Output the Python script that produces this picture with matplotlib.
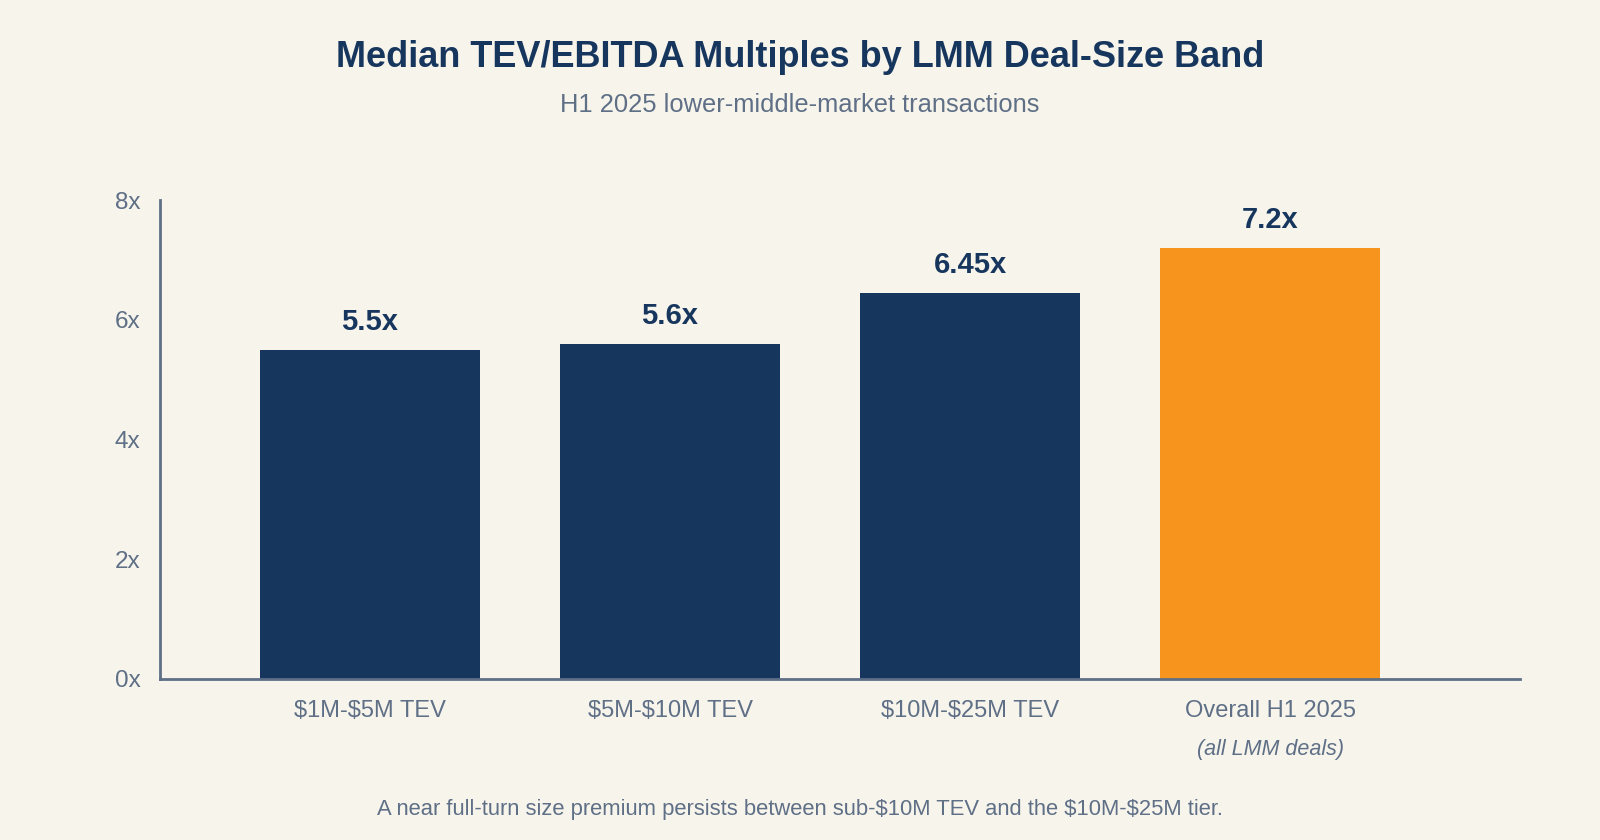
import matplotlib.pyplot as plt

# data
bands = ['\\$1M-\\$5M TEV', '\\$5M-\\$10M TEV', '\\$10M-\\$25M TEV', 'Overall H1 2025']
multiples = [5.5, 5.6, 6.45, 7.2]
value_labels = ['5.5x', '5.6x', '6.45x', '7.2x']
bar_colors = ['#17365D', '#17365D', '#17365D', '#F7941E']
yticks = [0, 2, 4, 6, 8]
ytick_labels = ['0x', '2x', '4x', '6x', '8x']

bg = '#F7F4EC'
navy = '#17365D'
gray = '#5E6F86'

plt.rcParams['font.family'] = ['Liberation Sans', 'DejaVu Sans']

fig = plt.figure(figsize=(16, 8.4), dpi=100, facecolor=bg)
ax = fig.add_axes([0.1, 0.1917, 0.85, 0.5702], facecolor=bg)

x = range(len(bands))
ax.bar(x, multiples, width=0.733, color=bar_colors, zorder=2)

for xi, v, lab in zip(x, multiples, value_labels):
    ax.annotate(lab, (xi, v), xytext=(0, 10), textcoords='offset points',
                ha='center', va='bottom', fontsize=21, fontweight='bold', color=navy)

ax.set_xlim(-0.7, 3.833)
ax.set_ylim(0, 8)
ax.set_yticks(yticks)
ax.set_yticklabels(ytick_labels, fontsize=17.5, color=gray)
ax.set_xticks(list(x))
ax.set_xticklabels(bands, fontsize=17, color=gray)
ax.tick_params(axis='both', length=0)
ax.tick_params(axis='y', pad=14)
ax.tick_params(axis='x', pad=15)

for s in ['top', 'right']:
    ax.spines[s].set_visible(False)
for s in ['left', 'bottom']:
    ax.spines[s].set_color(gray)
    ax.spines[s].set_linewidth(2)

ax.text(3, -0.125, '(all LMM deals)', transform=ax.get_xaxis_transform(),
        ha='center', va='top', fontsize=15.5, style='italic', color=gray)

fig.text(0.5, 0.931, 'Median TEV/EBITDA Multiples by LMM Deal-Size Band',
         ha='center', va='center', fontsize=26, fontweight='bold', color=navy)
fig.text(0.5, 0.875, 'H1 2025 lower-middle-market transactions',
         ha='center', va='center', fontsize=18.4, color=gray)
fig.text(0.5, 0.036, 'A near full-turn size premium persists between sub-\\$10M TEV and the \\$10M-\\$25M tier.',
         ha='center', va='center', fontsize=15.8, color=gray)

fig.savefig('out.png', dpi=100, facecolor=bg)
